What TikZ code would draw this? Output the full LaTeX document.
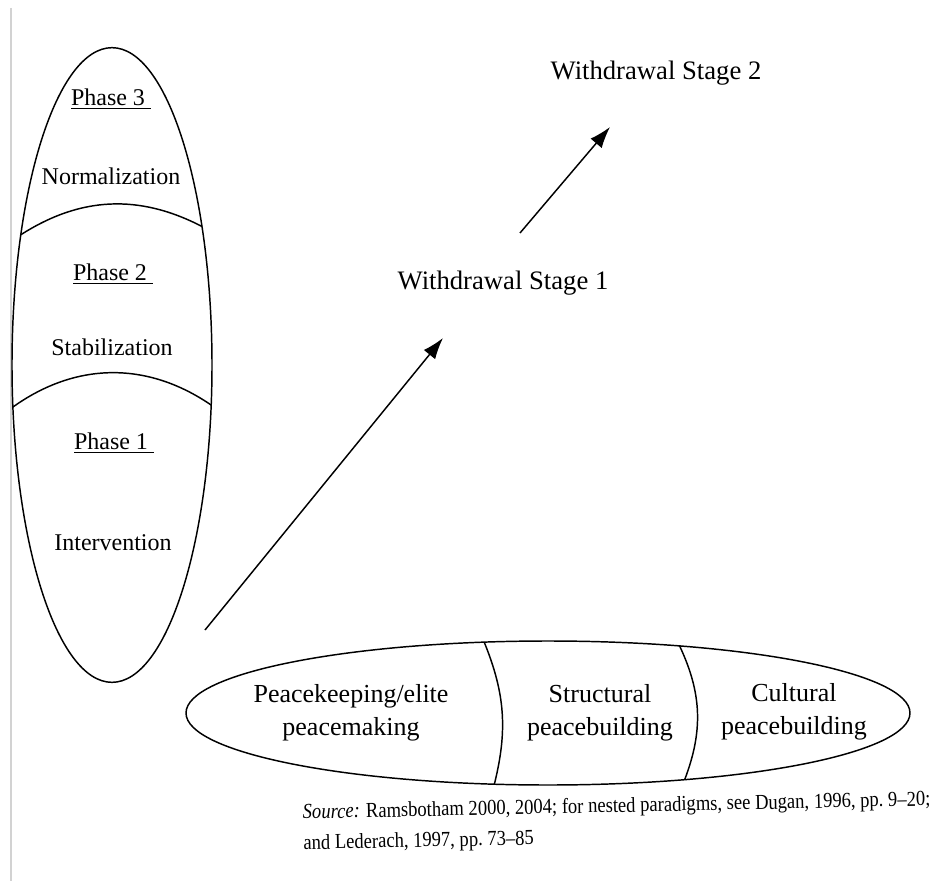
\documentclass[tikz,border=0pt]{standalone}
\usepackage{fontspec}
\setmainfont{Liberation Serif}
\newfontfamily\srcfont[FakeStretch=0.87]{Liberation Serif}
\usetikzlibrary{shapes.geometric}
\usetikzlibrary{arrows.meta}

\begin{document}
\begin{tikzpicture}[x=0.75pt,y=-0.75pt,line width=1.1pt,
    blob/.style={draw, ellipse, inner sep=0pt, outer sep=0pt},
    phase/.style={font=\fontsize{18}{21}\selectfont},
    stage/.style={font=\fontsize{20}{24}\selectfont},
    part/.style={font=\fontsize{19.5}{25}\selectfont, align=center},
    src/.style={font=\srcfont\fontsize{16}{23}\selectfont, align=left},
    arr/.style={-{Latex[length=16pt,width=11pt]}}]

    \useasboundingbox (0,0) rectangle (943,881);
    \draw[gray!35, line width=2pt] (11,8) -- (11,881);

    % Define nodes
    \node[blob, minimum width=150pt, minimum height=476pt] (phases) at (112,365) {};
    \node[blob, minimum width=543pt, minimum height=108pt] (stages) at (548,713) {};

    \node[phase] (p3)     at (111,99)  {\underline{Phase 3~}};
    \node[phase] (norm)   at (111,176) {Normalization};
    \node[phase] (p2)     at (113,274) {\underline{Phase 2~}};
    \node[phase] (stab)   at (112,347) {Stabilization};
    \node[phase] (p1)     at (114,443) {\underline{Phase 1~}};
    \node[phase] (interv) at (113,543) {Intervention};

    \node[stage] (ws1) at (503,283) {Withdrawal Stage 1};
    \node[stage] (ws2) at (656,73)  {Withdrawal Stage 2};

    \node[part] (keep)   at (351,713) {Peacekeeping/elite\\peacemaking};
    \node[part] (struct) at (600,713) {Structural\\peacebuilding};
    \node[part] (cult)   at (794,712) {Cultural\\peacebuilding};

    \node[src, anchor=west, rotate=1.2] (source) at (298,829)
      {{\itshape Source:} Ramsbotham 2000, 2004; for nested paradigms, see Dugan, 1996, pp.~9–20;\\
       and Lederach, 1997, pp.~73–85};

    \coordinate (t1) at (205,630);
    \coordinate (h1) at (443,338);
    \coordinate (t2) at (520,233);
    \coordinate (h2) at (610,127);

    % Divide the ellipses
    \draw (phases.125) to[bend left=30] (phases.57);
    \draw (phases.203) to[bend left=35] (phases.338);
    \draw (stages.132) to[bend left=18] (stages.233);
    \draw (stages.27)  to[bend left=23] (stages.334);

    % Connect the nodes
    \draw[arr] (t1) -- (h1);
    \draw[arr] (t2) -- (h2);
\end{tikzpicture}
\end{document}
